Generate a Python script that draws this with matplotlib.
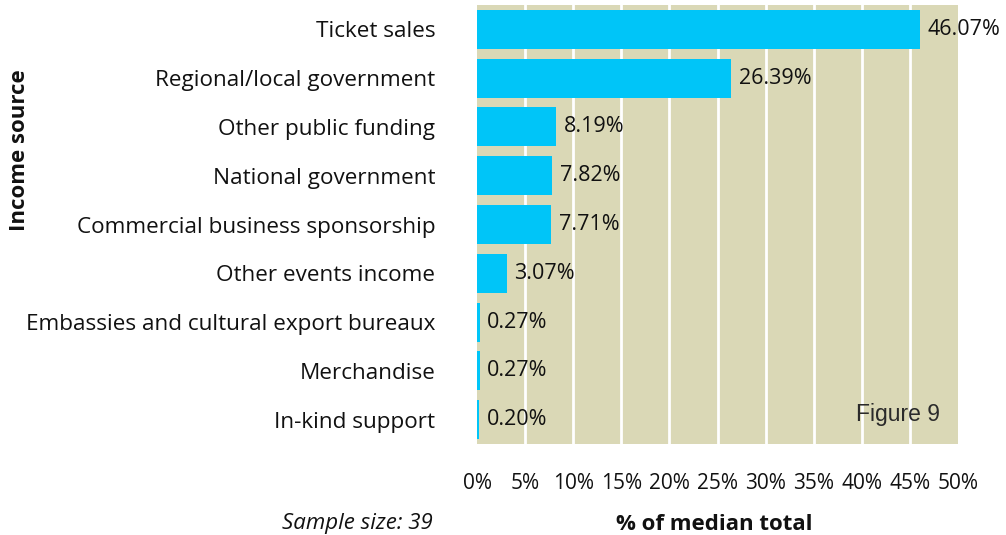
import matplotlib
matplotlib.use("Agg")
import matplotlib.pyplot as plt
import numpy as np

categories = [
    "Ticket sales",
    "Regional/local government",
    "Other public funding",
    "National government",
    "Commercial business sponsorship",
    "Other events income",
    "Embassies and cultural export bureaux",
    "Merchandise",
    "In-kind support",
]
values = [46.07, 26.39, 8.19, 7.82, 7.71, 3.07, 0.27, 0.27, 0.20]
xticks = [0, 5, 10, 15, 20, 25, 30, 35, 40, 45, 50]

BAR = "#00c5f8"
BG = "#dad8b6"
FONT = "Open Sans"
INK = "#111111"

fig = plt.figure(figsize=(10.06, 5.35), dpi=100)
ax = fig.add_axes([477 / 1006, 1 - 444 / 535, 481 / 1006, 439 / 535])
ax.set_facecolor(BG)

y = np.arange(len(categories))
ax.barh(y, values, height=0.8, color=BAR, zorder=3)
ax.set_xlim(0, 50)
ax.set_ylim(len(categories) - 0.5, -0.5)

for v in xticks[1:-1]:
    ax.axvline(v, color="white", lw=2, zorder=2)

for yi, v in zip(y, values):
    ax.text(v + 0.8, yi, f"{v:.2f}%", va="center", ha="left", fontsize=15.5,
            family=FONT, color=INK, zorder=4, clip_on=False)

ax.set_yticks(y)
ax.set_yticklabels(categories, family=FONT, fontsize=16.2, color=INK)
ax.set_xticks(xticks)
ax.set_xticklabels([f"{t}%" for t in xticks], family=FONT, fontsize=15, color=INK)
ax.tick_params(axis="y", length=0, pad=30)
ax.tick_params(axis="x", length=0, pad=21)
for s in ax.spines.values():
    s.set_visible(False)

ax.text(940 / 1006, 1 - 415 / 535, "Figure 9", transform=fig.transFigure,
        ha="right", va="center", family="Liberation Sans", fontsize=16.5,
        color="#2a2a2a", zorder=5)

fig.text(714 / 1006, 1 - 524 / 535, "% of median total", ha="center", va="center",
         family=FONT, fontsize=16, fontweight="bold", color=INK)
fig.text(433 / 1006, 1 - 523 / 535, "Sample size: 39", ha="right", va="center",
         family=FONT, fontsize=16, style="italic", color=INK)
fig.text(20 / 1006, 1 - 150 / 535, "Income source", ha="center", va="center",
         rotation=90, family=FONT, fontsize=16, fontweight="bold", color=INK)

fig.savefig("out.png", dpi=100)
